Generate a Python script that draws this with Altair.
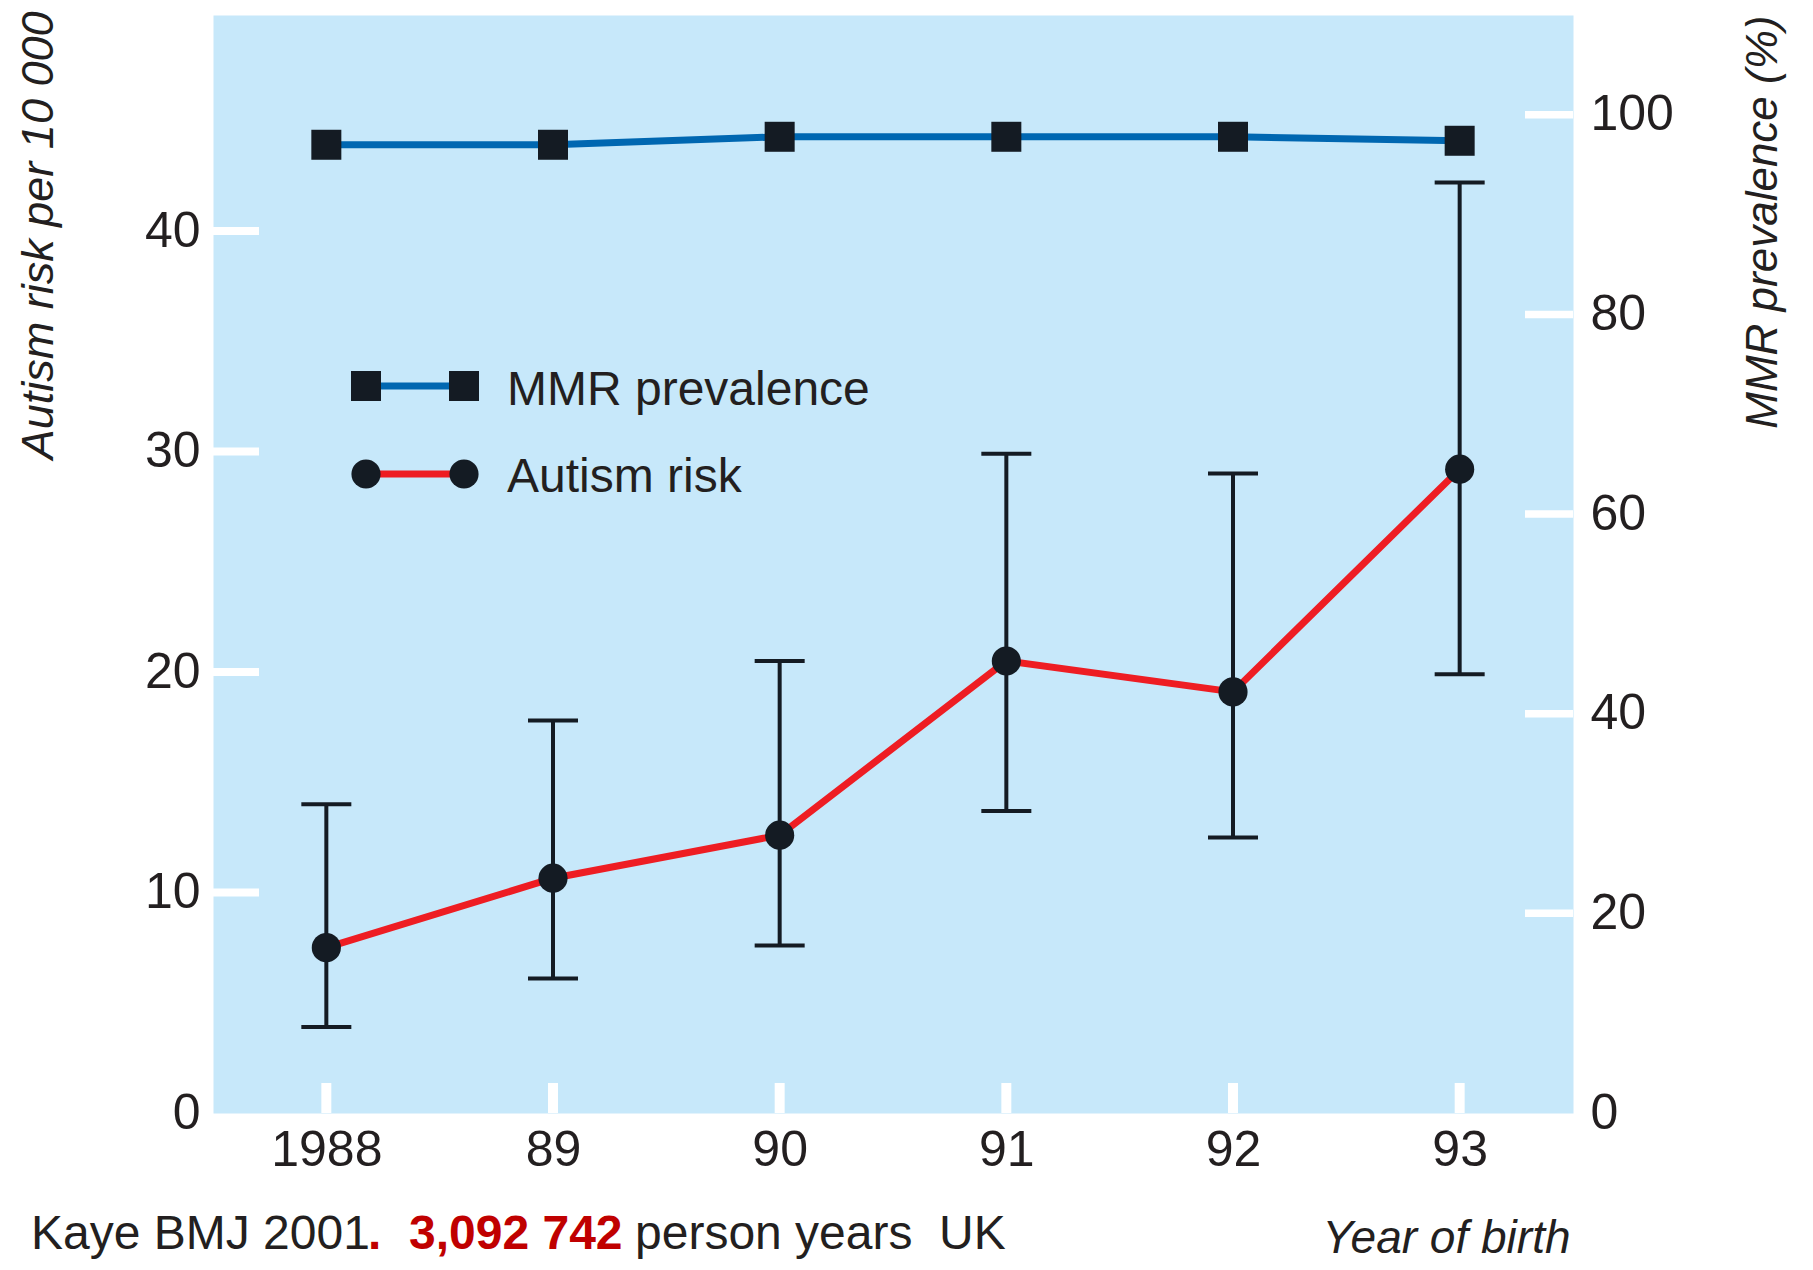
import altair as alt
import pandas as pd

# ---- data ----
years = [1988, 1989, 1990, 1991, 1992, 1993]
year_labels = ["1988", "89", "90", "91", "92", "93"]
autism_risk = [7.5, 10.65, 12.6, 20.5, 19.1, 29.2]
autism_low = [3.9, 6.1, 7.6, 13.7, 12.5, 19.9]
autism_high = [14.0, 17.8, 20.5, 29.9, 29.0, 42.2]
mmr_prev = [97.0, 97.0, 97.8, 97.8, 97.8, 97.4]
left_ticks = [0, 10, 20, 30, 40]
right_ticks = [0, 20, 40, 60, 80, 100]
legend_labels = ["MMR prevalence", "Autism risk"]
caption_parts = ["Kaye BMJ 2001", ".", "3,092 742", "person years", "UK"]

# ---- style ----
W, H = 1360, 1098
BG = "#C7E8FA"
DARK = "#141B23"
TXT = "#231F20"
BLUE = "#0067B1"
RED = "#EE1D23"
DRED = "#C00000"
FONT = "Liberation Sans, Arial, Helvetica, sans-serif"

df = pd.DataFrame({"year": years, "risk": autism_risk, "low": autism_low,
                   "high": autism_high, "mmr": mmr_prev})

label_expr = ""
for y, l in zip(years, year_labels):
    label_expr += f"datum.value == {y} ? '{l}' : "
label_expr += "''"

xs = alt.Scale(domain=[1987.5, 1993.5], nice=False, zero=False)
ls = alt.Scale(domain=[0, 49.8], nice=False)
rs = alt.Scale(domain=[0, 110], nice=False)

x_axis = alt.Axis(values=years, labelExpr=label_expr, ticks=False, domain=False, grid=False,
                  labelFont=FONT, labelFontSize=50, labelColor=TXT, labelPadding=12,
                  labelFlush=False, labelOverlap=False,
                  title="Year of birth", titleFont=FONT, titleFontSize=46,
                  titleFontStyle="italic", titleFontWeight="normal", titleColor=TXT,
                  titleX=1357, titleY=139, titleAlign="right", titleBaseline="alphabetic")

left_axis = alt.Axis(orient="left", values=left_ticks, ticks=False, domain=False, grid=False,
                     labelFont=FONT, labelFontSize=50, labelColor=TXT, labelPadding=13,
                     labelOverlap=False,
                     title="Autism risk per 10 000", titleFont=FONT, titleFontSize=45,
                     titleFontStyle="italic", titleFontWeight="normal", titleColor=TXT,
                     titleAngle=270, titleAlign="right", titleBaseline="middle",
                     titleX=-175, titleY=-4)

right_axis = alt.Axis(orient="right", values=right_ticks, ticks=False, domain=False, grid=False,
                      labelFont=FONT, labelFontSize=50, labelColor=TXT, labelPadding=17,
                      labelOverlap=False,
                      title="MMR prevalence (%)", titleFont=FONT, titleFontSize=44,
                      titleFontStyle="italic", titleFontWeight="normal", titleColor=TXT,
                      titleAngle=270, titleAlign="right", titleBaseline="middle",
                      titleX=190, titleY=0)

X = alt.X("year:Q", scale=xs, axis=x_axis)

base = alt.Chart(df)

# ---- autism risk (left scale) ----
err = base.mark_rule(color=DARK, strokeWidth=4).encode(
    x=X, y=alt.Y("low:Q", scale=ls, axis=left_axis), y2="high:Q")
cap_lo = base.mark_tick(color=DARK, thickness=4, size=50, orient="horizontal", opacity=1).encode(
    x=X, y=alt.Y("low:Q", scale=ls, axis=left_axis))
cap_hi = base.mark_tick(color=DARK, thickness=4, size=50, orient="horizontal", opacity=1).encode(
    x=X, y=alt.Y("high:Q", scale=ls, axis=left_axis))
risk_line = base.mark_line(color=RED, strokeWidth=7).encode(
    x=X, y=alt.Y("risk:Q", scale=ls, axis=left_axis))
risk_pts = base.mark_point(shape="circle", filled=True, size=850, color=DARK, opacity=1).encode(
    x=X, y=alt.Y("risk:Q", scale=ls, axis=left_axis))

lt_df = pd.DataFrame({"v": left_ticks})
left_tick_marks = alt.Chart(lt_df).transform_filter("datum.v > 0").mark_rule(
    color="white", strokeWidth=8).encode(
    y=alt.Y("v:Q", scale=ls, axis=left_axis), x=alt.value(0), x2=alt.value(46))

bottom_tick_marks = base.mark_rule(color="white", strokeWidth=10).encode(
    x=X, y=alt.value(H - 30), y2=alt.value(H))

left_group = alt.layer(bottom_tick_marks, left_tick_marks, err, cap_lo, cap_hi, risk_line, risk_pts)

# ---- MMR (right scale) ----
mmr_line = base.mark_line(color=BLUE, strokeWidth=7).encode(
    x=X, y=alt.Y("mmr:Q", scale=rs, axis=right_axis))
mmr_pts = base.mark_point(shape="square", filled=True, size=900, color=DARK, opacity=1).encode(
    x=X, y=alt.Y("mmr:Q", scale=rs, axis=right_axis))
rt_df = pd.DataFrame({"v": right_ticks})
right_tick_marks = alt.Chart(rt_df).transform_filter("datum.v > 0").mark_rule(
    color="white", strokeWidth=7.5).encode(
    y=alt.Y("v:Q", scale=rs, axis=right_axis), x=alt.value(W - 48), x2=alt.value(W))

right_group = alt.layer(right_tick_marks, mmr_line, mmr_pts)

# ---- legend (drawn inside plot) ----
leg1 = alt.Chart(pd.DataFrame({"label": [legend_labels[0]]}))
leg2 = alt.Chart(pd.DataFrame({"label": [legend_labels[1]]}))
legend_layers = [
    leg1.mark_rule(color=BLUE, strokeWidth=7).encode(x=alt.value(153), x2=alt.value(251), y=alt.value(371)),
    leg1.mark_point(shape="square", filled=True, size=900, color=DARK, opacity=1).encode(x=alt.value(153), y=alt.value(371)),
    leg1.mark_point(shape="square", filled=True, size=900, color=DARK, opacity=1).encode(x=alt.value(251), y=alt.value(371)),
    leg1.mark_text(align="left", baseline="alphabetic", font=FONT, fontSize=48, color=TXT).encode(
        x=alt.value(294), y=alt.value(390), text="label:N"),
    leg2.mark_rule(color=RED, strokeWidth=7).encode(x=alt.value(153), x2=alt.value(251), y=alt.value(459)),
    leg2.mark_point(shape="circle", filled=True, size=850, color=DARK, opacity=1).encode(x=alt.value(153), y=alt.value(459)),
    leg2.mark_point(shape="circle", filled=True, size=850, color=DARK, opacity=1).encode(x=alt.value(251), y=alt.value(459)),
    leg2.mark_text(align="left", baseline="alphabetic", font=FONT, fontSize=48, color=TXT).encode(
        x=alt.value(294), y=alt.value(477), text="label:N"),
]

# ---- caption ----
cap_x = [-182, 155, 196, 422, 726]
cap_color = [TXT, DRED, DRED, TXT, TXT]
cap_weight = ["normal", "bold", "bold", "normal", "normal"]
caption_layers = []
for part, cx, cc, cw in zip(caption_parts, cap_x, cap_color, cap_weight):
    caption_layers.append(
        alt.Chart(pd.DataFrame({"t": [part]})).mark_text(
            align="left", baseline="alphabetic", font=FONT, fontSize=48,
            color=cc, fontWeight=cw).encode(x=alt.value(cx), y=alt.value(1234), text="t:N"))

chart = alt.layer(left_group, right_group, *legend_layers, *caption_layers).resolve_scale(
    y="independent"
).properties(
    width=W, height=H,
    autosize=alt.AutoSizeParams(type="none"),
    padding={"left": 205, "top": 7, "right": 220, "bottom": 149},
).configure_view(fill=BG, stroke="transparent")

chart.save("out.html", embed_options={"renderer": "svg", "actions": False})
